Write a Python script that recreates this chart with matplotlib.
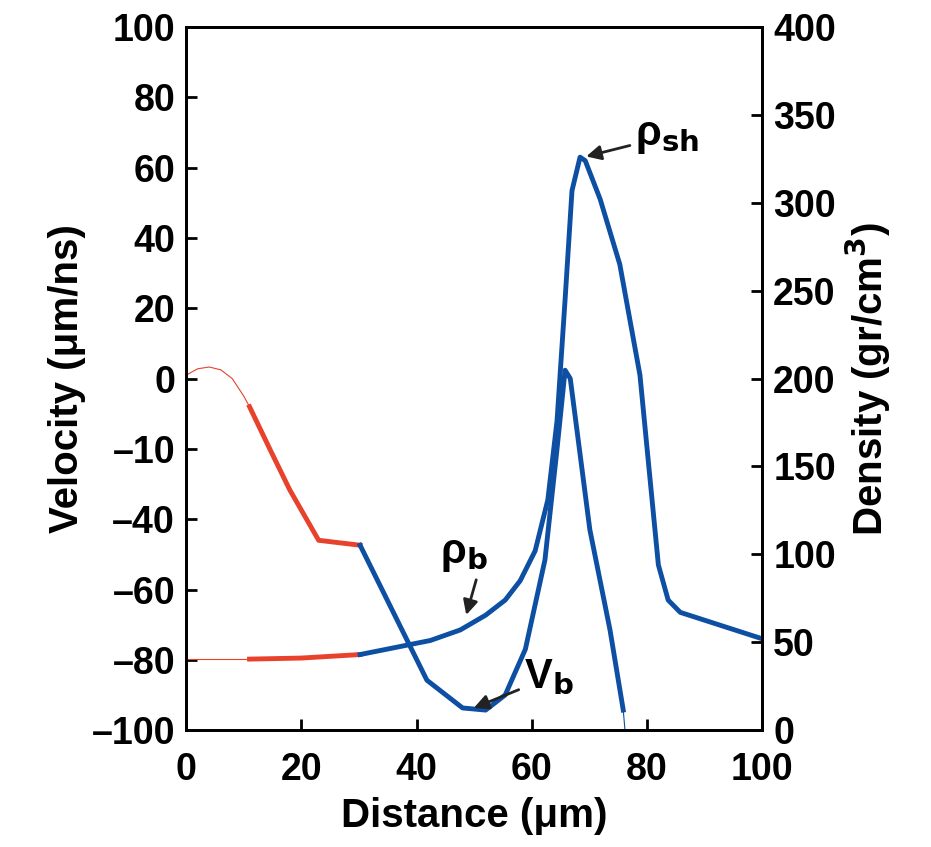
import matplotlib
matplotlib.use("Agg")
import matplotlib.pyplot as plt

plt.rcParams['font.family'] = ['Liberation Sans', 'DejaVu Sans']
plt.rcParams['font.weight'] = 'bold'

red = '#e8412c'
blue = '#0d4fa3'

# velocity (left axis units)
v_thin_x = [0, 2, 4, 6, 8, 10, 11]
v_thin_y = [1, 2.8, 3.3, 2.5, 0, -5, -8]
v_red_x = [11, 14.6, 18, 23, 30.2]
v_red_y = [-8, -20.3, -31.7, -46, -47.4]
v_blue_x = [30.2, 41.8, 48, 52, 55.4, 58.9, 62.3, 64.4, 65.8, 66.7, 70.1, 73.6, 75.9]
v_blue_y = [-47.4, -85.8, -93.7, -94.3, -90, -77, -51.6, -20, 2.4, 0, -43, -71.5, -94.3]
v_tail_x = [75.9, 76.2]
v_tail_y = [-94.3, -100]

# density (right axis units)
d_thin_x = [0, 11]
d_thin_y = [40.4, 40.4]
d_red_x = [11, 20, 30.2]
d_red_y = [40.4, 41, 43]
d_blue_x = [30.2, 42.4, 47.6, 52, 55.4, 58, 60.6, 62.8, 64.4, 65.8, 67, 68.4, 69.3, 71.9,
            75.3, 78.8, 82, 83.7, 85.8, 100]
d_blue_y = [43, 51, 57, 65.4, 74, 85, 102, 131, 176, 245, 307, 326, 324, 302,
            265, 202, 94, 74, 67, 52]

left_ticks = [100, 80, 60, 40, 20, 0, -20, -40, -60, -80, -100]
left_labels = ['100', '80', '60', '40', '20', '0', '\u201310', '\u201340', '\u201360', '\u201380', '\u2013100']

fig = plt.figure(figsize=(9.31, 8.47), dpi=100)
ax = fig.add_axes([0.2, 0.138, 0.6185, 0.83])
ax2 = ax.twinx()

ax.plot(v_thin_x, v_thin_y, color=red, lw=0.8)
ax.plot(v_red_x, v_red_y, color=red, lw=3.5)
ax.plot(v_blue_x, v_blue_y, color=blue, lw=3.5)
ax.plot(v_tail_x, v_tail_y, color=blue, lw=0.8)
ax2.plot(d_thin_x, d_thin_y, color=red, lw=0.8)
ax2.plot(d_red_x, d_red_y, color=red, lw=3.5)
ax2.plot(d_blue_x, d_blue_y, color=blue, lw=3.5)

ax.set_xlim(0, 100)
ax.set_ylim(-100, 100)
ax2.set_ylim(0, 400)
ax.set_xticks(range(0, 101, 20))
ax.set_yticks(left_ticks)
ax.set_yticklabels(left_labels)
ax2.set_yticks(range(0, 401, 50))
for a in (ax, ax2):
    a.tick_params(labelsize=27, width=2, length=8, direction='in')
    for s in a.spines.values():
        s.set_linewidth(2)
ax.tick_params(axis='x', pad=16)
ax.tick_params(axis='y', pad=8)
ax2.tick_params(axis='y', pad=8)
ax.set_xlabel('Distance (\u03bcm)', fontsize=29, fontweight='bold', labelpad=6)
ax.set_ylabel('Velocity (\u03bcm/ns)', fontsize=29, fontweight='bold', labelpad=4)
ax2.set_ylabel('Density (gr/cm$^\\mathbf{3}$)', fontsize=29, fontweight='bold', labelpad=6)

akw = dict(arrowstyle='-|>', color='#222222', lw=2, mutation_scale=22)
ax2.annotate('\u03c1$_{\\mathbf{sh}}$', xy=(69, 326), xytext=(78, 338), fontsize=30,
             arrowprops=akw, va='center')
ax2.annotate('\u03c1$_{\\mathbf{b}}$', xy=(48.5, 64), xytext=(44, 100), fontsize=30,
             arrowprops=dict(akw, relpos=(0.8, 0.0)), va='center')
ax.annotate('V$_{\\mathbf{b}}$', xy=(49.5, -94), xytext=(63, -85), fontsize=30,
            arrowprops=akw, va='center', ha='center')

fig.savefig('out.png', dpi=100)
